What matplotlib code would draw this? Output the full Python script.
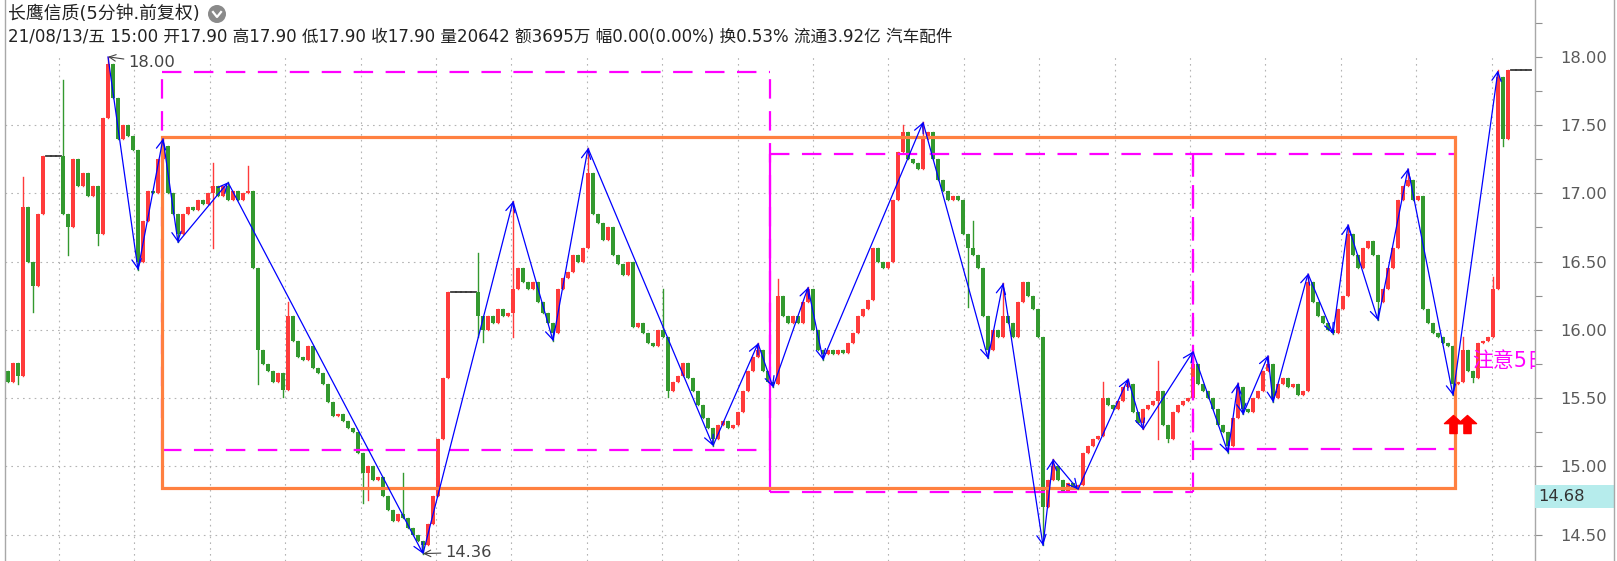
import matplotlib

matplotlib.use('Agg')
import matplotlib.pyplot as plt
import numpy as np
from matplotlib.path import Path
from matplotlib.patches import Rectangle, Ellipse
from matplotlib.lines import Line2D
from matplotlib.ticker import MultipleLocator, FormatStrFormatter

plt.rcParams['font.family'] = ['DejaVu Sans', 'Noto Sans CJK SC']
plt.rcParams['lines.scale_dashes'] = False

title = '长鹰信质(5分钟.前复权)'
info = ('21/08/13/五 15:00 开17.90 高17.90 低17.90 收17.90 量20642 额3695万 '
        '幅0.00(0.00%) 换0.53% 流通3.92亿 汽车配件')

# 5-minute closes, one per bar (open = previous close)
first_open = 15.70
close = [
    15.62, 15.76, 15.66, 16.90, 16.50, 16.32, 16.85, 17.27, 17.27, 17.27,
    17.27, 16.85, 16.75, 17.25, 17.05, 17.15, 16.98, 17.05, 16.70, 17.55,
    17.95, 17.70, 17.40, 17.50, 17.42, 17.32, 16.50, 16.80, 17.02, 17.00,
    17.25, 17.35, 17.00, 16.85, 16.70, 16.85, 16.90, 16.88, 16.95, 16.92,
    17.00, 17.05, 16.98, 17.05, 16.95, 17.02, 16.95, 17.00, 17.02, 16.45,
    15.85, 15.75, 15.70, 15.62, 15.68, 15.56, 16.10, 15.92, 15.80, 15.78,
    15.88, 15.72, 15.68, 15.60, 15.47, 15.37, 15.38, 15.33, 15.28, 15.25,
    15.10, 14.95, 15.00, 14.90, 14.92, 14.78, 14.68, 14.60, 14.65, 14.62,
    14.55, 14.50, 14.45, 14.42, 14.58, 14.78, 15.20, 15.65, 16.28, 16.28,
    16.28, 16.28, 16.28, 16.28, 16.10, 16.00, 16.10, 16.05, 16.15, 16.10,
    16.12, 16.30, 16.45, 16.35, 16.30, 16.35, 16.20, 16.12, 16.05, 15.98,
    16.30, 16.38, 16.42, 16.55, 16.50, 16.60, 17.15, 16.85, 16.78, 16.66,
    16.75, 16.55, 16.48, 16.40, 16.50, 16.02, 16.05, 15.98, 15.90, 15.88,
    16.00, 15.95, 15.55, 15.62, 15.66, 15.76, 15.65, 15.55, 15.45, 15.35,
    15.28, 15.20, 15.30, 15.33, 15.28, 15.30, 15.40, 15.55, 15.70, 15.80,
    15.85, 15.70, 15.62, 15.60, 16.25, 16.10, 16.05, 16.10, 16.05, 16.20,
    16.30, 16.00, 15.85, 15.82, 15.85, 15.82, 15.85, 15.83, 15.90, 15.98,
    16.10, 16.15, 16.22, 16.60, 16.50, 16.45, 16.50, 16.95, 17.30, 17.45,
    17.25, 17.22, 17.18, 17.40, 17.45, 17.25, 17.10, 17.02, 16.95, 16.98,
    16.95, 16.70, 16.60, 16.55, 16.45, 16.10, 15.85, 16.00, 15.95, 16.10,
    16.05, 15.95, 16.20, 16.35, 16.25, 16.15, 15.95, 14.70, 14.90, 15.00,
    14.90, 14.82, 14.88, 14.85, 14.86, 15.10, 15.15, 15.20, 15.22, 15.50,
    15.45, 15.42, 15.48, 15.58, 15.60, 15.40, 15.32, 15.42, 15.45, 15.48,
    15.55, 15.30, 15.20, 15.40, 15.45, 15.48, 15.50, 15.75, 15.60, 15.55,
    15.50, 15.42, 15.30, 15.25, 15.15, 15.35, 15.58, 15.42, 15.40, 15.50,
    15.55, 15.70, 15.75, 15.50, 15.60, 15.65, 15.58, 15.60, 15.52, 15.55,
    16.35, 16.20, 16.10, 16.05, 16.00, 15.98, 16.15, 16.25, 16.70, 16.55,
    16.45, 16.60, 16.65, 16.55, 16.20, 16.30, 16.45, 16.60, 16.95, 17.05,
    17.10, 16.95, 16.98, 16.15, 16.05, 15.98, 15.95, 15.90, 15.88, 15.60,
    15.62, 15.85, 15.70, 15.65, 15.90, 15.92, 15.95, 16.30, 17.85, 17.40,
    17.90, 17.90, 17.90, 17.90, 17.90,
]

# wick extremes that stick out past the bodies: (bar, price)
spike_hi = [(3, 17.12), (11, 17.83), (20, 18.00), (31, 17.40), (41, 17.22),
            (44, 17.08), (48, 17.20), (56, 16.20), (79, 14.95), (94, 16.56),
            (101, 16.94), (116, 17.33), (131, 16.30), (150, 15.90), (154, 16.37),
            (160, 16.31), (179, 17.50), (183, 17.52), (193, 16.80), (199, 16.34),
            (209, 15.05), (219, 15.62), (224, 15.64), (230, 15.77), (237, 15.84),
            (246, 15.61), (252, 15.81), (260, 16.41), (268, 16.77), (280, 17.18),
            (291, 15.95), (297, 16.39), (298, 17.90)]
spike_lo = [(2, 15.60), (5, 16.13), (12, 16.55), (18, 16.62), (26, 16.44),
            (34, 16.64), (41, 16.60), (50, 15.60), (55, 15.51), (71, 14.73),
            (72, 14.75), (83, 14.36), (94, 15.95), (95, 15.91), (101, 15.95),
            (109, 15.92), (132, 15.51), (141, 15.15), (153, 15.58), (163, 15.78),
            (192, 16.17), (196, 15.79), (207, 14.42), (214, 14.83), (227, 15.27),
            (230, 15.20), (232, 15.18), (244, 15.10), (247, 15.38), (253, 15.47),
            (265, 15.97), (274, 16.07), (289, 15.52), (293, 15.62), (299, 17.35)]

# zigzag turning points
zz_idx = [20, 26, 31, 34, 44, 83, 101, 109, 116, 141, 150, 153, 160, 163, 183,
          196, 199, 207, 209, 214, 224, 227, 237, 244, 246, 247, 252, 253, 260,
          265, 268, 274, 280, 289, 298]
zz_val = [18.00, 16.44, 17.40, 16.64, 17.08, 14.36, 16.94, 15.92, 17.33, 15.15,
          15.90, 15.58, 16.31, 15.78, 17.52, 15.79, 16.34, 14.42, 15.05, 14.83,
          15.64, 15.27, 15.84, 15.10, 15.61, 15.38, 15.81, 15.47, 16.41, 15.97,
          16.77, 16.07, 17.18, 15.52, 17.90]

# boxes: (first bar, last bar, low, high)
orange_box = (30.8, 289.4, 14.84, 17.41)
box1 = (30.7, 152.4, 15.12, 17.89)
box2 = (152.4, 237.0, 14.81, 17.29)
box3 = (237.0, 289.3, 15.13, 17.29)

hint_text = '注意5日线'
hint_pos = (292.8, 15.77)
signal_bars = [289.0, 291.8]
signal_price = 15.31
cursor_price = '14.68'

W, H = 1617, 561
fig = plt.figure(figsize=(W / 100, H / 100), dpi=100)
ax = fig.add_axes([5 / W, 0, 1530 / W, 1])
ymin, ymax = 14.306, 18.416
ax.set_xlim(-0.6, 305.4)
ax.set_ylim(ymin, ymax)

# dotted grid
grid_kw = dict(color='#b4b4b4', lw=0.8, ls=(0, (1.2, 3.0)), zorder=0)
for k in range(20):
    gx = (59 + 75.4 * k - 8) / 5
    ax.plot([gx, gx], [ymin, 18.01], **grid_kw)
for gy in np.arange(14.5, 17.51, 0.5):
    ax.plot([-0.6, 305.4], [gy, gy], **grid_kw)

# candles
n = len(close)
opens = [first_open] + close[:-1]
highs = [max(o, c) for o, c in zip(opens, close)]
lows = [min(o, c) for o, c in zip(opens, close)]
for i, v in spike_hi:
    highs[i] = max(highs[i], v)
for i, v in spike_lo:
    lows[i] = min(lows[i], v)

up_c, dn_c, doji_c = '#ff3b3b', '#33992f', '#3a3a3a'
for i in range(n):
    o, c = opens[i], close[i]
    if abs(c - o) < 1e-9:
        ax.plot([i - 0.5, i + 0.5], [c, c], color=doji_c, lw=1.3, zorder=2)
        if highs[i] > c or lows[i] < c:
            ax.plot([i, i], [lows[i], highs[i]], color=doji_c, lw=0.8, zorder=2)
        continue
    col = up_c if c > o else dn_c
    ax.plot([i, i], [lows[i], highs[i]], color=col, lw=1.0, zorder=2)
    ax.bar(i, max(abs(c - o), 0.012), bottom=min(o, c), width=0.75,
           color=col, linewidth=0, zorder=2)

# boxes
mag = '#ff00ff'
dash = (0, (14, 9))


def seg(xs, ys, style, offset=0):
    ls = style if style == '-' else (offset, dash[1])
    ax.plot(xs, ys, color=mag, lw=1.6, ls=ls, zorder=3, solid_capstyle='butt')


x0, x1, lo, hi = box1
seg([x0, x1], [hi, hi], '--')
seg([x0, x1], [lo, lo], '--')
seg([x0, x0], [lo, hi], '--')
seg([x1, x1], [lo, hi], '--')
x0, x1, lo, hi = box2
seg([x0, x1], [hi, hi], '--')
seg([x0, x1], [lo, lo], '--')
seg([x0, x0], [lo, hi], '-')
seg([x1, x1], [lo, hi], '--')
x0, x1, lo, hi = box3
seg([x0, x1], [hi, hi], '--')
seg([x0, x1], [lo, lo], '--')
seg([x0, x0], [lo, hi], '--', offset=11)

x0, x1, lo, hi = orange_box
ax.add_patch(Rectangle((x0, lo), x1 - x0, hi - lo, fill=False,
                       edgecolor='#ff8040', lw=2.3, zorder=3))

# zigzag with arrow heads
for k in range(1, len(zz_idx)):
    ax.annotate('', xy=(zz_idx[k], zz_val[k]), xytext=(zz_idx[k - 1], zz_val[k - 1]),
                arrowprops=dict(arrowstyle='->,head_length=0.55,head_width=0.28',
                                color='#0000ff', lw=0.9, shrinkA=0, shrinkB=0,
                                mutation_scale=12), zorder=4)

# extreme labels
lab_kw = dict(fontsize=11.8, color='#444444', va='center', ha='left', zorder=5)
ax.annotate('18.00', xy=(20, 18.0), xytext=(24.0, 17.955),
            arrowprops=dict(arrowstyle='->', color='#444444', lw=0.8, shrinkA=1, shrinkB=0),
            **lab_kw)
ax.annotate('14.36', xy=(83, 14.36), xytext=(87.4, 14.37),
            arrowprops=dict(arrowstyle='->', color='#444444', lw=0.8, shrinkA=1, shrinkB=0),
            **lab_kw)

ax.text(hint_pos[0], hint_pos[1], hint_text, color=mag, fontsize=15,
        va='center', ha='left', clip_on=True, zorder=5)

arrow_marker = Path([(-0.5, 0.05), (0, 0.5), (0.5, 0.05), (0.2, 0.05), (0.2, -0.5),
                     (-0.2, -0.5), (-0.2, 0.05), (-0.5, 0.05)], closed=True)
ax.plot(signal_bars, [signal_price] * 2, ls='none', marker=arrow_marker, ms=13,
        color='red', mec='red', zorder=5)

# right price axis
ax.set_xticks([])
ax.yaxis.tick_right()
ax.yaxis.set_major_locator(MultipleLocator(0.5))
ax.yaxis.set_minor_locator(MultipleLocator(0.25))
ax.yaxis.set_major_formatter(FormatStrFormatter('%.2f'))
ax.tick_params(axis='y', which='both', direction='out', length=5, width=0.8,
               color='#909090', labelsize=11.8, labelcolor='#5a5a5a', pad=13)
for s in ('top', 'bottom'):
    ax.spines[s].set_visible(False)
for s in ('left', 'right'):
    ax.spines[s].set_color('#a8a8a8')
    ax.spines[s].set_linewidth(1.0)

# cursor price box
fig.add_artist(Rectangle((1535 / W, 1 - 508 / H), 79 / W, 23 / H,
                         facecolor='#b6ecec', edgecolor='none'))
fig.text(1538 / W, 1 - 496.5 / H, cursor_price, fontsize=11.8, color='#333333',
         va='center', ha='left')
fig.add_artist(Line2D([1614 / W, 1614 / W], [0, 1], color='#a8a8a8', lw=1.0))

# header
t1 = fig.text(8 / W, 1 - 14 / H, title, fontsize=12, va='center', ha='left', color='#222222')
t2 = fig.text(8 / W, 1 - 37 / H, info, fontsize=11, va='center', ha='left', color='#222222')
fig.canvas.draw()
r = fig.canvas.get_renderer()
for t, w in ((t1, 191), (t2, 946)):
    bb = t.get_window_extent(r)
    t.set_fontsize(t.get_fontsize() * w / bb.width)

fig.add_artist(Ellipse((217 / W, 1 - 14 / H), 18 / W, 18 / H, facecolor='#8a8a8a',
                       edgecolor='none'))
fig.add_artist(Line2D([213 / W, 217 / W, 221 / W], [1 - 12 / H, 1 - 17 / H, 1 - 12 / H],
                      color='white', lw=1.6))

fig.savefig('out.png', dpi=100)
